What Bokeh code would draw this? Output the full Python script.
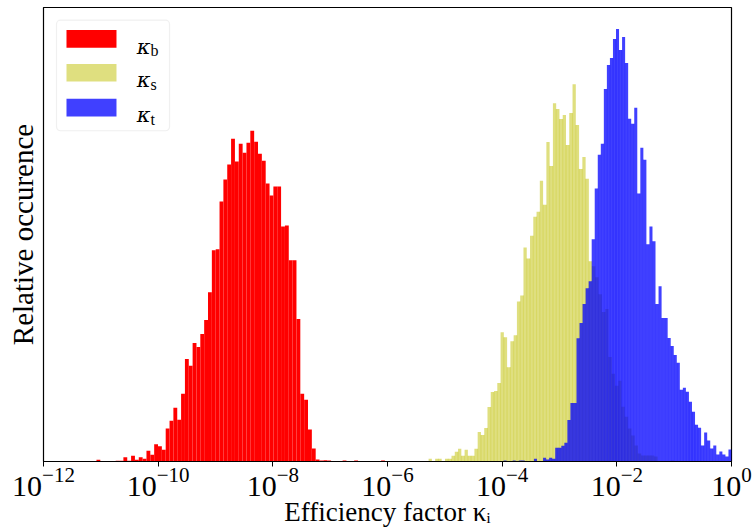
import numpy as np
from bokeh.plotting import figure
from bokeh.models import Range1d, FixedTicker, LogTickFormatter, BoxAnnotation, Label
from bokeh.embed import file_html
from bokeh.resources import INLINE

# ---- data: each histogram has 75 equal-width bins in log10 space ----
kb_log_range = (-11.076, -6.045)
ks_log_range = (-5.283, -1.004)
kt_log_range = (-3.976, 0.0)

kb_counts = [1.7, 0, 0, 0, 0, 0.7, 0.7, 4.3, 0.7, 5.7,
             1.7, 4.3, 2.7, 10.7, 6.7, 17.3, 15.3, 11.7, 33, 41,
             54, 42, 68, 103, 96, 119, 115, 128, 142, 170,
             212, 213, 261, 283, 298, 324, 301, 319, 310, 320,
             332, 321, 309, 302, 279, 267, 276, 276, 236, 237,
             202, 202, 143, 68, 62, 32, 13, 2, 1, 1.3,
             1, 0, 0, 0, 1, 0, 0, 1, 0, 0,
             0, 0, 0, 0, 1]

ks_counts = [2.7, 0, 2.7, 2.7, 0, 2.7, 2.7, 5.7, 9.7, 12.7,
             5.7, 11.7, 5.7, 5.7, 12.7, 29.7, 26.7, 33.7, 54.7, 69.7,
             70.7, 78.7, 129.7, 124.7, 94.7, 120.7, 126.7, 160.7, 166.7, 214.7,
             203.7, 226.7, 245.7, 250.7, 281.7, 257.7, 320.7, 296.7, 359.7, 353.7,
             343.7, 347.7, 317.7, 349.7, 378.7, 337.7, 293.7, 305.7, 283.7, 201,
             196, 185, 168, 150, 153, 105, 88, 76, 81, 55,
             45, 33, 26, 16, 8, 6, 6, 6, 6, 5,
             0, 0, 0, 0, 1]

kt_counts = [1, 0, 0, 1, 0, 1, 1, 0, 0, 0,
             2.7, 0, 0, 3.7, 2, 3.7, 2.7, 13.7, 13.7, 15.7,
             18.7, 41.7, 58.7, 58.7, 123.7, 139, 158, 174, 181, 223,
             274, 308, 319, 374, 398, 405, 424, 434, 413, 426,
             400, 344, 339, 355, 269, 315, 303, 218, 236, 221,
             158, 176, 144, 144, 124, 116, 107, 99, 72, 74,
             70, 60, 50, 37, 34, 16, 29, 21, 13, 16,
             7, 10, 7, 5, 12]

xtick_exponents = [-12, -10, -8, -6, -4, -2, 0]
series_labels = ["b", "s", "t"]

FONT = "Liberation Serif"
GREEK = "DejaVu Serif"

ymax = max(max(kb_counts), max(ks_counts), max(kt_counts)) * 1.05

p = figure(width=752, height=529, x_axis_type="log",
           x_range=Range1d(1e-12, 1.0), y_range=Range1d(0, ymax),
           output_backend="svg", toolbar_location=None,
           min_border_left=43, min_border_right=21, min_border_top=7, min_border_bottom=66)
p.xgrid.visible = False
p.ygrid.visible = False
p.outline_line_color = "black"
p.outline_line_width = 1.2
p.outline_line_alpha = 1.0
p.background_fill_color = "white"
p.border_fill_color = "white"


def draw_hist(lr, counts, color, alpha, seam_alpha):
    counts = np.asarray(counts, dtype=float)
    edges = np.logspace(lr[0], lr[1], len(counts) + 1)
    mask = counts > 0
    p.quad(left=edges[:-1][mask], right=edges[1:][mask], bottom=0, top=counts[mask],
           fill_color=color, fill_alpha=alpha, line_color=None)
    if seam_alpha > 0:
        inner = edges[1:-1]
        h = np.minimum(counts[:-1], counts[1:])
        m = h > 0
        p.segment(x0=inner[m], y0=0, x1=inner[m], y1=h[m],
                  line_color=color, line_alpha=seam_alpha, line_width=0.8)


draw_hist(kb_log_range, kb_counts, "#ff0000", 1.0, 0)
draw_hist(ks_log_range, ks_counts, "#bfbf00", 0.5, 0.4)
draw_hist(kt_log_range, kt_counts, "#0000ff", 0.75, 0.5)

# ---- axes ----
xa = p.xaxis[0]
xa.ticker = FixedTicker(ticks=[10.0 ** e for e in xtick_exponents])
xa.formatter = LogTickFormatter()
xa.minor_tick_line_color = None
xa.major_tick_in = 0
xa.major_tick_out = 5
xa.major_tick_line_color = "black"
xa.axis_line_color = "black"
xa.major_label_text_font = FONT
xa.major_label_text_font_size = "30px"
xa.major_label_text_color = "black"
xa.major_label_standoff = 1
xa.axis_label = "Efficiency factor κᵢ"
xa.axis_label_text_font = FONT
xa.axis_label_text_font_size = "27px"
xa.axis_label_text_font_style = "normal"
xa.axis_label_text_color = "black"
xa.axis_label_standoff = -2

ya = p.yaxis[0]
ya.ticker = FixedTicker(ticks=[])
ya.major_tick_line_color = None
ya.minor_tick_line_color = None
ya.axis_line_color = "black"
ya.axis_label = "Relative occurence"
ya.axis_label_text_font = FONT
ya.axis_label_text_font_size = "29px"
ya.axis_label_text_font_style = "normal"
ya.axis_label_text_color = "black"
ya.axis_label_standoff = 5

# ---- legend (manual, in data coordinates of the frame) ----
leg_left, leg_right = 10 ** -11.773, 10 ** -9.802
leg_bottom, leg_top = 332, 443
p.add_layout(BoxAnnotation(left=leg_left, right=leg_right, bottom=leg_bottom, top=leg_top,
                           fill_color="white", fill_alpha=0.8,
                           line_color="#cccccc", line_width=1.2, border_radius=4))

patch_left, patch_right = 10 ** -11.599, 10 ** -10.727
patch_tops = [433, 399, 364]
patch_h = 17.7
colors = [("#ff0000", 1.0), ("#bfbf00", 0.5), ("#0000ff", 0.75)]
text_x = 10 ** -10.375
sub_x = 10 ** -10.135
for i, (c, a) in enumerate(colors):
    top = patch_tops[i]
    p.add_layout(BoxAnnotation(left=patch_left, right=patch_right, bottom=top - patch_h, top=top,
                               fill_color=c, fill_alpha=a, line_color=None))
    base = top - 16.5
    p.add_layout(Label(x=text_x, y=base, text="κ", text_font=GREEK, text_font_style="italic",
                       text_font_size="21px", text_baseline="alphabetic", text_color="black"))
    p.add_layout(Label(x=sub_x, y=base - 4, text=series_labels[i], text_font=FONT,
                       text_font_size="16px", text_baseline="alphabetic", text_color="black"))

open("out.html", "w").write(file_html(p, INLINE))
